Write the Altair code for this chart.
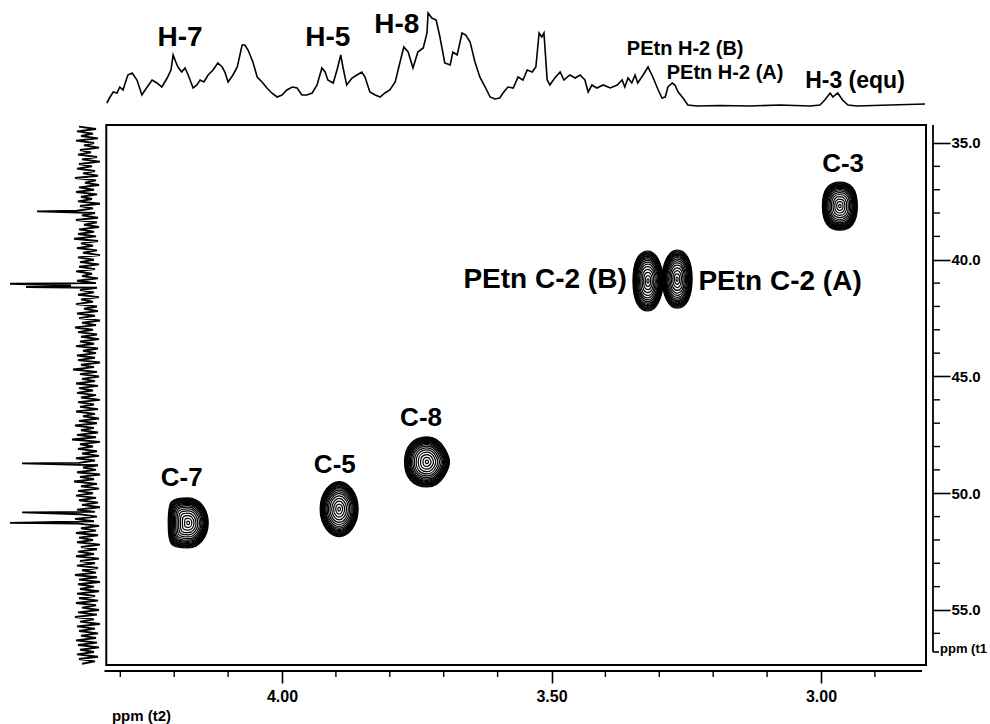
import altair as alt
import numpy as np
import pandas as pd

# ---------------- data ----------------
# 1H projection (top trace): chemical shift in ppm and relative intensity
H1_PPM = [4.325, 4.319, 4.313, 4.306, 4.301, 4.295, 4.286, 4.278, 4.269, 4.260,
          4.254, 4.241, 4.232, 4.223, 4.213, 4.206, 4.202, 4.197, 4.193, 4.186,
          4.180, 4.174, 4.165, 4.158, 4.152, 4.145, 4.137, 4.128, 4.119, 4.111,
          4.106, 4.100, 4.091, 4.083, 4.074, 4.069, 4.063, 4.054, 4.046, 4.037,
          4.028, 4.019, 4.009, 4.000, 3.991, 3.981, 3.972, 3.963, 3.954, 3.944,
          3.935, 3.926, 3.920, 3.915, 3.905, 3.898, 3.891, 3.887, 3.880, 3.870,
          3.861, 3.852, 3.846, 3.837, 3.827, 3.818, 3.809, 3.800, 3.790, 3.781,
          3.774, 3.766, 3.757, 3.748, 3.738, 3.731, 3.729, 3.722, 3.714, 3.707,
          3.698, 3.688, 3.683, 3.675, 3.666, 3.659, 3.651, 3.642, 3.633, 3.623,
          3.614, 3.605, 3.596, 3.590, 3.581, 3.571, 3.562, 3.553, 3.545, 3.536,
          3.529, 3.523, 3.518, 3.514, 3.508, 3.503, 3.494, 3.484, 3.477, 3.466,
          3.456, 3.447, 3.438, 3.432, 3.425, 3.416, 3.404, 3.391, 3.378, 3.369,
          3.364, 3.358, 3.351, 3.345, 3.340, 3.330, 3.321, 3.312, 3.302, 3.295,
          3.289, 3.284, 3.276, 3.271, 3.265, 3.256, 3.247, 3.230, 3.187, 3.132,
          3.076, 3.020, 3.002, 2.993, 2.983, 2.978, 2.969, 2.960, 2.950, 2.933,
          2.872, 2.807]
H1_INT = [3, 9, 14, 13, 19, 16, 31, 33, 26, 11,
          16, 26, 23, 19, 28, 36, 51, 44, 39, 34,
          38, 31, 18, 21, 26, 24, 31, 36, 43, 39,
          34, 24, 31, 39, 61, 61, 56, 44, 29, 24,
          18, 13, 9, 11, 16, 19, 18, 11, 11, 13,
          21, 38, 34, 26, 23, 36, 51, 39, 21, 28,
          31, 34, 29, 14, 11, 9, 13, 16, 24, 44,
          59, 54, 38, 54, 58, 73, 93, 88, 86, 69,
          43, 41, 54, 51, 73, 71, 64, 44, 29, 19,
          9, 7, 8, 13, 19, 18, 29, 26, 36, 34,
          39, 73, 69, 73, 26, 21, 28, 34, 26, 31,
          28, 31, 26, 14, 21, 18, 21, 18, 21, 26,
          19, 28, 23, 31, 23, 31, 39, 29, 16, 8,
          9, 19, 23, 21, 14, 8, 1, 0, 0.5, 0,
          1, 0, 1, 6, 13, 9, 13, 6, 1, 0,
          1, 2]

# 13C projection (left trace): baseline noise every 0.1 ppm from 34.3 to 57.3 ppm
C13_NOISE = [9, -8, 11, -5, 7, -10, 12, -6, 4, -11, 8, -3, 10, -9, 6, -12, 9, -4, 11, -7,
             5, -10, 13, -8, 3, -11, 9, -6, 12, -9, 7, -4, 10, -12, 8, -5, 11, -7, 6, -10,
             12, -9, 4, -11, 9, -6, 10, -8, 14, -10, 7, -5, 11, -9, 5, -12, 10, -6, 8, -11,
             9, -7, 12, -4, 6, -10, 11, -8, 17, -9, 8, -6, 10, -11, 7, -5, 12, -9, 4, -10,
             11, -7, 9, -12, 6, -8, 13, -5, 10, -9, 7, -11, 8, -6, 12, -10, 5, -8, 11, -7,
             10, -12, 7, -6, 15, -9, 8, -11, 6, -7, 12, -10, 9, -5, 11, -8, 7, -12, 10, -6,
             8, -10, 12, -7, 5, -11, 9, -9, 13, -6, 7, -10, 11, -8, 16, -12, 8, -5, 10, -9,
             6, -11, 12, -7, 9, -10, 5, -8, 11, -12, 8, -6, 14, -9, 7, -11, 10, -5, 12, -8,
             9, -10, 6, -12, 11, -7, 8, -9, 13, -6, 10, -11, 7, -8, 12, -10, 9, -5, 11, -12,
             7, -9, 10, -6, 12, -11, 8, -7, 11, -10, 6, -8, 13, -9, 9, -12, 10, -6, 8, -11,
             11, -7, 9, -10, 12, -8, 6, -11, 10, -9, 13, -6, 8, -12, 11, -7, 9, -10, 7, -8,
             12, -9, 10, -11, 8, -6, 11, -10, 9, -7, 6]
# 13C resonances rising out of the noise: shift (ppm) and intensity
C13_PEAK_PPM = [37.93, 41.03, 41.17, 48.72, 50.82, 51.27]
C13_PEAK_INT = [51, 78, 62, 66, 66, 78]

# HSQC cross peaks: 1H shift, 13C shift
PEAK_NAMES = ["C-7", "C-5", "C-8", "C-3", "PEtn C-2 (B)", "PEtn C-2 (A)"]
PEAK_H = [4.174, 3.894, 3.731, 2.965, 3.321, 3.267]
PEAK_C = [51.27, 50.68, 48.66, 37.70, 40.91, 40.83]

# annotations inside the 2D map
CROSS_LABELS = ["C-7", "C-5", "C-8", "C-3"]
CROSS_LABEL_H = [4.186, 3.902, 3.742, 2.959]
CROSS_LABEL_C = [49.35, 48.79, 46.78, 35.90]
PETN_LABELS = ["PEtn C-2 (B)", "PEtn C-2 (A)"]
PETN_LABEL_H = [3.512, 3.076]
PETN_LABEL_C = [40.87, 40.95]

# annotations above the 1H trace (shift, height in trace units)
H_LABELS = ["H-7", "H-5", "H-8"]
H_LABEL_PPM = [4.189, 3.915, 3.787]
H_LABEL_INT = [68, 68, 81]
PETN_H_LABELS = ["PEtn H-2 (B)", "PEtn H-2 (A)"]
PETN_H_LABEL_PPM = [3.252, 3.178]
PETN_H_LABEL_INT = [57, 33]
H3_LABEL = ["H-3 (equ)"]
H3_LABEL_PPM = [2.937]
H3_LABEL_INT = [25]

# ---------------- layout / style ----------------
W, H = 926, 665
FONT = "Liberation Sans"
NARROW = "Liberation Sans Narrow, Liberation Sans, sans-serif"

xs = alt.Scale(domain=[2.8052, 4.5232], reverse=True, nice=False, zero=False)
ys = alt.Scale(domain=[28.876, 57.356], reverse=True, nice=False, zero=False)
trace_y = alt.Scale(domain=[-559, 106], nice=False, zero=False)
trace_x = alt.Scale(domain=[-838, 88], reverse=True, nice=False, zero=False)

# contour outline per cross peak: half width / half height in px and curve handles
CONTOUR_STYLE = {
    "C-7": dict(hw=20, hh=25, tr=0.55, sr=0.55, tl=0.92, sl=0.9),
    "C-5": dict(hw=19, hh=27.5, tr=0.45, sr=0.62, tl=0.45, sl=0.62),
    "C-8": dict(hw=22.5, hh=25, tr=0.75, sr=0.12, tl=0.62, sl=0.62),
    "C-3": dict(hw=17.5, hh=24, tr=0.62, sr=0.72, tl=0.62, sl=0.72),
    "PEtn C-2 (B)": dict(hw=15, hh=30, tr=0.55, sr=0.55, tl=0.62, sl=0.66),
    "PEtn C-2 (A)": dict(hw=15, hh=29, tr=0.62, sr=0.62, tl=0.55, sl=0.55),
}
RINGS = [1.0, 0.97, 0.94, 0.91, 0.88, 0.85, 0.82, 0.78, 0.74, 0.69,
         0.63, 0.56, 0.48, 0.39, 0.29, 0.18, 0.07]


def blob(a, tr, sr, tl, sl):
    """Closed outline inside the unit box, used as a custom point shape."""
    return (f"M0,-1 C{tr * a:.3f},-1 {a:.3f},{-sr:.3f} {a:.3f},0 "
            f"C{a:.3f},{sr:.3f} {tr * a:.3f},1 0,1 "
            f"C{-tl * a:.3f},1 {-a:.3f},{sl:.3f} {-a:.3f},0 "
            f"C{-a:.3f},{-sl:.3f} {-tl * a:.3f},-1 0,-1 Z")


# ---------------- layers ----------------
top_df = pd.DataFrame({"ppm": H1_PPM, "intensity": H1_INT, "i": range(len(H1_PPM))})
top_trace = alt.Chart(top_df).mark_line(color="black", strokeWidth=1.6).encode(
    x=alt.X("ppm:Q", scale=xs, axis=None),
    y=alt.Y("intensity:Q", scale=trace_y, axis=None),
    order="i:Q",
)

grid = np.round(np.linspace(34.3, 57.3, len(C13_NOISE)), 2)
left_df = pd.DataFrame({
    "ppm": np.concatenate([grid, C13_PEAK_PPM]),
    "intensity": np.concatenate([C13_NOISE, C13_PEAK_INT]),
}).sort_values("ppm").reset_index(drop=True)
left_df["i"] = range(len(left_df))
left_trace = alt.Chart(left_df).mark_line(color="black", strokeWidth=1.9).encode(
    x=alt.X("intensity:Q", scale=trace_x, axis=None),
    y=alt.Y("ppm:Q", scale=ys, axis=None),
    order="i:Q",
)

rows = []
for name, h, c in zip(PEAK_NAMES, PEAK_H, PEAK_C):
    st = CONTOUR_STYLE[name]
    path = blob(st["hw"] / st["hh"], st["tr"], st["sr"], st["tl"], st["sl"])
    for f in RINGS:
        rows.append({"h": h, "c": c, "size": (2 * st["hh"] * f) ** 2, "shape": path})
contours = alt.Chart(pd.DataFrame(rows)).mark_point(
    filled=False, color="black", strokeWidth=1.2, opacity=1
).encode(
    x=alt.X("h:Q", scale=xs, axis=None),
    y=alt.Y("c:Q", scale=ys, axis=None),
    size=alt.Size("size:Q", scale=None),
    shape=alt.Shape("shape:N", scale=None),
)

x_axis = alt.Axis(
    orient="bottom", values=[4.0, 3.5, 3.0], format=".2f", offset=6,
    domain=False, grid=False, tickSize=12, tickWidth=1.6, tickColor="black",
    labelFont=NARROW, labelFontSize=16, labelFontWeight="bold", labelColor="black",
    labelPadding=5, labelFlush=False, labelOverlap=False,
    title="ppm (t2)", titleFont=NARROW, titleFontSize=15, titleFontWeight="bold",
    titleColor="black", titleX=141, titleY=44, titleBaseline="middle",
)
y_axis = alt.Axis(
    orient="right", values=[35, 40, 45, 50, 55], format=".1f", offset=7,
    domain=False, grid=False, tickSize=17, tickWidth=1.6, tickColor="black",
    labelFont=NARROW, labelFontSize=15, labelFontWeight="bold", labelColor="black",
    labelPadding=1, labelFlush=False, labelOverlap=False, title=None,
)
box_df = pd.DataFrame({"h1": [4.326], "h2": [2.8052], "c1": [34.23], "c2": [57.356]})
box = alt.Chart(box_df).mark_rect(fillOpacity=0, stroke="black", strokeWidth=2).encode(
    x=alt.X("h1:Q", scale=xs, axis=x_axis), x2="h2:Q",
    y=alt.Y("c1:Q", scale=ys, axis=y_axis), y2="c2:Q",
)

# axis lines and minor ticks
x_line = alt.Chart(pd.DataFrame({"a": [4.3293], "b": [2.8126]})).mark_rule(
    color="black", strokeWidth=1.8).encode(
    x=alt.X("a:Q", scale=xs, axis=None), x2="b:Q", y=alt.value(671))
x_minor = alt.Chart(pd.DataFrame({"v": [4.3, 4.2, 4.1, 3.9, 3.8, 3.7, 3.6, 3.4, 3.3, 3.2, 3.1, 2.9]})).mark_rule(
    color="black", strokeWidth=1.4).encode(
    x=alt.X("v:Q", scale=xs, axis=None), y=alt.value(671), y2=alt.value(677))
y_line = alt.Chart(pd.DataFrame({"a": [34.23], "b": [56.80]})).mark_rule(
    color="black", strokeWidth=1.8).encode(
    y=alt.Y("a:Q", scale=ys, axis=None), y2="b:Q", x=alt.value(933))
y_stub = alt.Chart(pd.DataFrame({"a": [56.80]})).mark_rule(
    color="black", strokeWidth=1.6).encode(
    y=alt.Y("a:Q", scale=ys, axis=None), x=alt.value(933), x2=alt.value(939))
y_minor = alt.Chart(pd.DataFrame({"v": [36, 37, 38, 39, 41, 42, 43, 44, 46, 47, 48, 49,
                                        51, 52, 53, 54, 56]})).mark_rule(
    color="black", strokeWidth=1.4).encode(
    y=alt.Y("v:Q", scale=ys, axis=None), x=alt.value(933), x2=alt.value(940))
y_title = alt.Chart(pd.DataFrame({"a": [56.80], "t": ["ppm (t1"]})).mark_text(
    font=NARROW, fontSize=13, fontWeight="bold", color="black", align="left",
    baseline="alphabetic", dy=1).encode(
    y=alt.Y("a:Q", scale=ys, axis=None), x=alt.value(940), text="t:N")


def map_labels(texts, hs, cs, size):
    df = pd.DataFrame({"t": texts, "h": hs, "c": cs})
    return alt.Chart(df).mark_text(font=FONT, fontSize=size, fontWeight="bold", color="black",
                                   align="center", baseline="middle").encode(
        x=alt.X("h:Q", scale=xs, axis=None), y=alt.Y("c:Q", scale=ys, axis=None), text="t:N")


def trace_labels(texts, hs, ints, size):
    df = pd.DataFrame({"t": texts, "h": hs, "v": ints})
    return alt.Chart(df).mark_text(font=FONT, fontSize=size, fontWeight="bold", color="black",
                                   align="center", baseline="middle").encode(
        x=alt.X("h:Q", scale=xs, axis=None), y=alt.Y("v:Q", scale=trace_y, axis=None), text="t:N")


chart = alt.layer(
    box, top_trace, left_trace, contours,
    x_line, x_minor, y_line, y_stub, y_minor, y_title,
    map_labels(CROSS_LABELS, CROSS_LABEL_H, CROSS_LABEL_C, 26),
    map_labels(PETN_LABELS, PETN_LABEL_H, PETN_LABEL_C, 28),
    trace_labels(H_LABELS, H_LABEL_PPM, H_LABEL_INT, 28),
    trace_labels(PETN_H_LABELS, PETN_H_LABEL_PPM, PETN_H_LABEL_INT, 20),
    trace_labels(H3_LABEL, H3_LABEL_PPM, H3_LABEL_INT, 23),
).resolve_scale(x="independent", y="independent").properties(
    width=W, height=H,
    autosize=alt.AutoSizeParams(type="none"),
    padding={"left": 0, "top": 0, "right": 64, "bottom": 59},
    background="white",
).configure_view(stroke=None)

chart.save("out.html", embed_options={"renderer": "svg", "actions": False})
